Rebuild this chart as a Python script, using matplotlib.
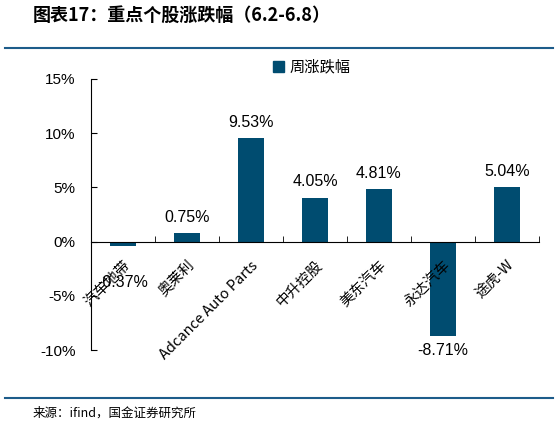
import numpy as np
import matplotlib.pyplot as plt
from matplotlib.lines import Line2D
from matplotlib.patches import Patch

plt.rcParams['font.family'] = ['Liberation Sans', 'Noto Sans CJK SC', 'DejaVu Sans']

# data
stocks = ["汽车地带", "奥莱利", "Adcance Auto Parts", "中升控股", "美东汽车", "永达汽车", "途虎-W"]
weekly_change = [-0.37, 0.75, 9.53, 4.05, 4.81, -8.71, 5.04]
yticks = [-10, -5, 0, 5, 10, 15]

BAR = "#004c70"
LINE = "#1d5c8a"
CJK = ['Noto Sans CJK SC', 'DejaVu Sans']

fig = plt.figure(figsize=(5.59, 4.29), dpi=100)
ax = fig.add_axes([91 / 559, 1 - 350 / 429, 448 / 559, 271 / 429])

x = np.arange(len(stocks))
ax.bar(x, weekly_change, width=0.4, color=BAR, zorder=1)
ax.set_axisbelow(False)

ax.set_xlim(-0.5, len(stocks) - 0.5)
ax.set_ylim(-10, 15)
ax.set_yticks(yticks)
ax.set_yticklabels([f"{v}%" for v in yticks], fontsize=11)
ax.tick_params(axis='y', direction='in', length=4, pad=11)

ax.spines['top'].set_visible(False)
ax.spines['right'].set_visible(False)
ax.spines['bottom'].set_position(('data', 0))

ax.set_xticks(x)
ax.set_xticks(np.arange(len(stocks) + 1) - 0.5, minor=True)
ax.tick_params(axis='x', which='major', length=0, pad=12)
ax.tick_params(axis='x', which='minor', direction='in', length=4)
ax.set_xticklabels(stocks, rotation=45, ha='right', va='top', rotation_mode='anchor',
                   fontsize=10.5, family=CJK)

# value labels
label_offsets = [-21, 6, 6, 6, 6, -5, 6]
for xi, v, off in zip(x, weekly_change, label_offsets):
    ax.annotate(f"{v:.2f}%", (xi, v), xytext=(0, off), textcoords='offset points',
                ha='center', va='bottom' if off > 0 else 'top', fontsize=11.5)

# legend
fig.legend(handles=[Patch(color=BAR)], labels=["周涨跌幅"], loc='center',
           bbox_to_anchor=(312 / 559, 1 - 67 / 429), frameon=False,
           prop={'family': CJK, 'size': 11}, handlelength=0.7, handleheight=0.7,
           handletextpad=0.4)

# title, rules and source
fig.text(33 / 559, 1 - 15 / 429, "图表17：重点个股涨跌幅（6.2-6.8）", fontsize=13,
         fontweight='bold', style='italic', family=CJK, va='center', ha='left')
fig.add_artist(Line2D([5 / 559, 553 / 559], [1 - 48 / 429] * 2, color=LINE, lw=1.5))
fig.add_artist(Line2D([5 / 559, 553 / 559], [1 - 398 / 429] * 2, color=LINE, lw=1.5))
fig.text(33 / 559, 1 - 413 / 429, "来源：ifind，国金证券研究所", fontsize=9,
         family=CJK, va='center', ha='left')

fig.savefig("out.png", dpi=100)
